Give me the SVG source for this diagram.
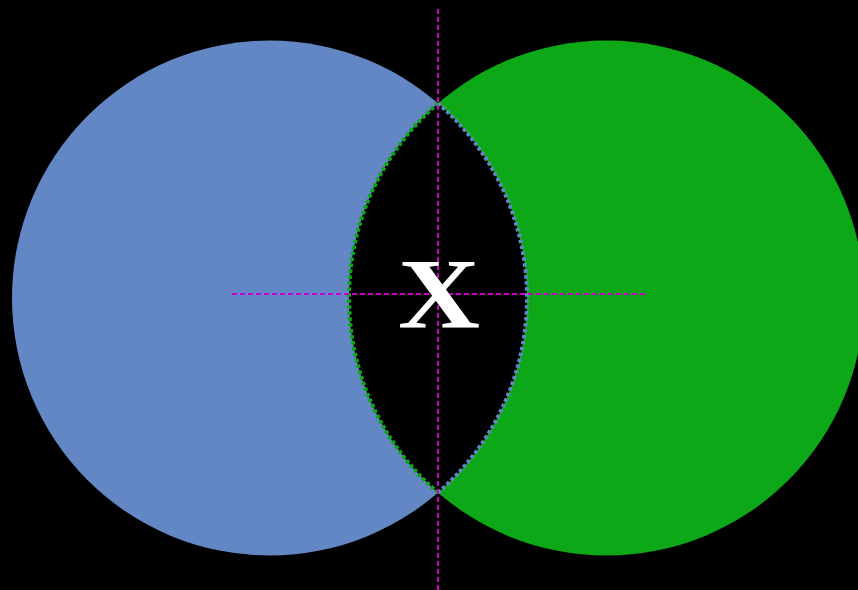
<svg xmlns="http://www.w3.org/2000/svg" width="858" height="590" viewBox="0 0 858 590">
<style>
.guide{stroke:#cc00cc;stroke-width:2;stroke-dasharray:5 3;fill:none}
.dotg{stroke:#0ca818;stroke-width:4;stroke-dasharray:3.5 2.5;fill:none}
.dotb{stroke:#6287c4;stroke-width:4;stroke-dasharray:3.5 2.5;fill:none}
</style>
<rect width="858" height="590" fill="#000"/>
<g id="setA"><circle cx="269.5" cy="298" r="257.5" fill="#6287c4"/></g>
<g id="setB"><circle cx="606.5" cy="298" r="257.5" fill="#0ca818"/></g>
<g id="intersection">
<path d="M438 103.3 A257.5 257.5 0 0 0 438 492.7 A257.5 257.5 0 0 0 438 103.3 Z" fill="#000"/>
<path class="dotg" d="M438 103.3 A257.5 257.5 0 0 0 438 492.7"/>
<path class="dotb" d="M438 492.7 A257.5 257.5 0 0 0 438 103.3"/>
</g>
<g id="guides">
<line class="guide" x1="438" y1="9" x2="438" y2="590"/>
<line class="guide" x1="232" y1="294" x2="646" y2="294"/>
</g>
<g id="label"><text x="398" y="327" textLength="82" lengthAdjust="spacingAndGlyphs" font-family="Liberation Serif, serif" font-weight="bold" font-size="100" fill="#fff">X</text></g>
</svg>
